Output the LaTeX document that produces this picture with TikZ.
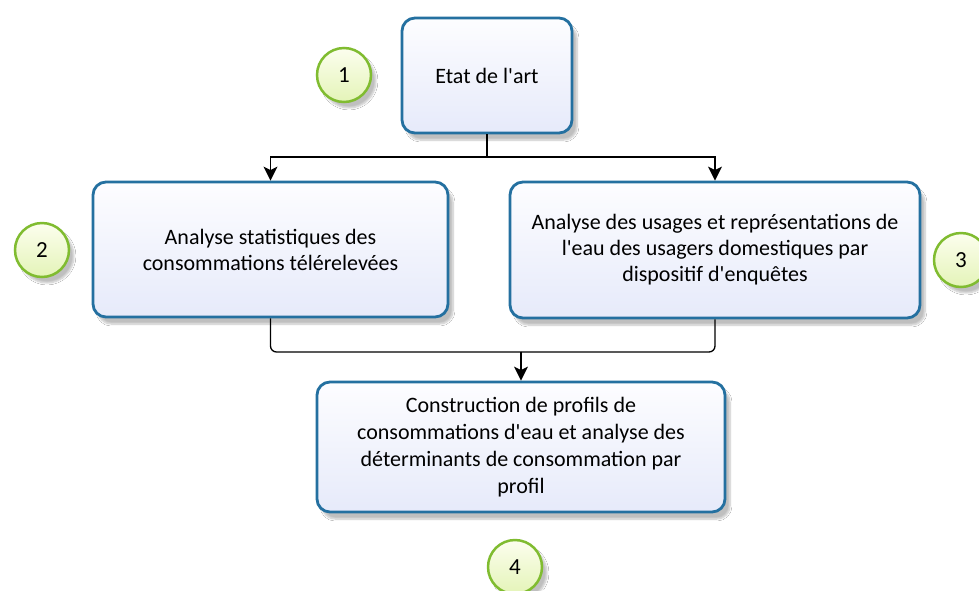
\documentclass[tikz,border=0pt]{standalone}
\usepackage{fontspec}
\setmainfont{Carlito}[Ligatures=TeXOff]
\usetikzlibrary{arrows.meta,shadows.blur,calc}
\definecolor{boxblue}{RGB}{36,112,160}
\definecolor{boxfillA}{RGB}{253,253,255}
\definecolor{boxfillB}{RGB}{230,234,250}
\definecolor{circgreen}{RGB}{128,188,48}
\definecolor{circfillA}{RGB}{252,254,238}
\definecolor{circfillB}{RGB}{228,244,184}
\begin{document}
\begin{tikzpicture}[x=1pt,y=-1pt,
  stepbox/.style={draw=boxblue,line width=2.8pt,rounded corners=13pt,
    top color=boxfillA,bottom color=boxfillB,align=center,
    font=\fontsize{22}{26}\selectfont,text=black,
    blur shadow={shadow xshift=5pt,shadow yshift=-7pt,shadow opacity=25,shadow blur steps=6}},
  numcirc/.style={circle,draw=circgreen,line width=2.5pt,minimum size=54pt,inner sep=0pt,
    top color=circfillA,bottom color=circfillB,font=\fontsize{23}{26}\selectfont,
    blur shadow={shadow xshift=5pt,shadow yshift=-6pt,shadow opacity=25,shadow blur steps=6}},
  conn/.style={line width=1.3pt,black},
  arr/.style={conn,-{Stealth[width=14pt,length=14pt,inset=3.5pt]}}]
\useasboundingbox (0,0) rectangle (979,590);
\fill[white] (0,0) rectangle (979,590);
% boxes
\node[stepbox,minimum width=170pt,minimum height=115pt] (b1) at (487,75.5) {Etat de l'art};
\node[stepbox,minimum width=355pt,minimum height=135pt] (b2) at (270.5,249.5) {Analyse statistiques des\\consommations télérelevées};
\node[stepbox,minimum width=410pt,minimum height=136pt] (b3) at (715,250) {Analyse des usages et représentations de\\l'eau des usagers domestiques par\\dispositif d'enquêtes};
\node[stepbox,minimum width=408pt,minimum height=130pt,font=\fontsize{22}{27}\selectfont] (b4) at (521,447) {Construction de profils de\\consommations d'eau et analyse des\\déterminants de consommation par\\profil};
% circles
\node[numcirc] (c1) at (344,75) {1};
\node[numcirc] (c2) at (42,250) {2};
\node[numcirc] (c3) at (961,260) {3};
\node[numcirc] (c4) at (515,567) {4};
% connectors
\coordinate (j1) at (487,157);
\coordinate (j2) at (521,352);
\draw[conn] (b1.south) -- (j1);
\draw[arr] (j1) -| (b2.north);
\draw[arr] (j1) -| (b3.north);
\draw[conn,rounded corners=6pt] (b2.south) |- (j2);
\draw[conn,rounded corners=6pt] (b3.south) |- (j2);
\draw[arr] (j2) -- (b4.north);
\end{tikzpicture}
\end{document}
